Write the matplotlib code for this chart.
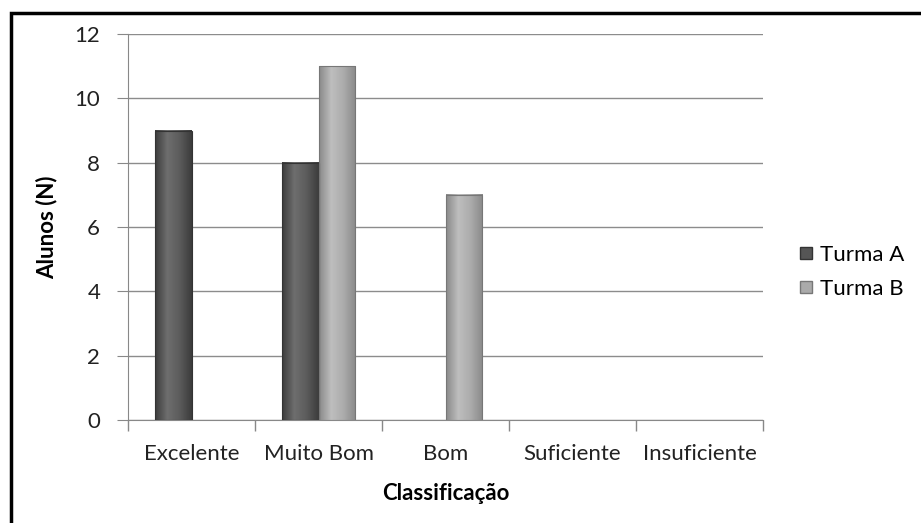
import numpy as np
import matplotlib
matplotlib.use("Agg")
import matplotlib.pyplot as plt
from matplotlib.colors import LinearSegmentedColormap
from matplotlib.patches import Rectangle
from matplotlib.lines import Line2D

# --- données ---
categorias = ["Excelente", "Muito Bom", "Bom", "Suficiente", "Insuficiente"]
turma_a = [9, 8, 0, 0, 0]
turma_b = [0, 11, 7, 0, 0]
series = ["Turma A", "Turma B"]

plt.rcParams["font.family"] = ["Lato", "DejaVu Sans"]
fs = 16

fig = plt.figure(figsize=(9.21, 5.23), dpi=100)
ax = fig.add_axes([128 / 921, 103 / 523, 635 / 921, 386 / 523])

x = np.arange(len(categorias))
w = 0.285

cmap_a = LinearSegmentedColormap.from_list("a", ["#3c3c3c", "#6e6e6e", "#5c5c5c", "#3c3c3c"])
cmap_b = LinearSegmentedColormap.from_list("b", ["#8a8a8a", "#bebebe", "#acacac", "#8a8a8a"])
grad = np.linspace(0, 1, 64).reshape(1, -1)

def barras(xs, hs, cmap, edge):
    bars = ax.bar(xs, hs, w, color="none", edgecolor="none", zorder=3)
    for b, h in zip(bars, hs):
        if h <= 0:
            continue
        x0, y0 = b.get_x(), b.get_y()
        ax.imshow(grad, cmap=cmap, aspect="auto", zorder=3,
                  extent=(x0, x0 + b.get_width(), y0, y0 + h))
        ax.add_patch(Rectangle((x0, y0), b.get_width(), h, fill=False,
                               edgecolor=edge, linewidth=0.8, zorder=4))

barras(x - w / 2, turma_a, cmap_a, "#333333")
barras(x + w / 2, turma_b, cmap_b, "#777777")

ax.set_xlim(-0.5, len(categorias) - 0.5)
ax.set_ylim(0, 12)
ax.set_yticks(range(0, 13, 2))
ax.set_xticks(x)
ax.set_xticklabels(categorias)
ax.set_xticks(np.arange(-0.5, len(categorias)), minor=True)
ax.tick_params(axis="x", which="major", length=0, pad=17, labelsize=fs, colors="#222222")
ax.tick_params(axis="x", which="minor", length=8, color="#888888", width=1)
ax.tick_params(axis="y", length=8, labelsize=fs, pad=12, colors="#222222")
ax.tick_params(axis="y", color="#888888")

ax.grid(axis="y", color="#8c8c8c", linewidth=1, zorder=0)
for s in ["top", "right"]:
    ax.spines[s].set_visible(False)
for s in ["left", "bottom"]:
    ax.spines[s].set_color("#888888")

ax.set_ylabel("Alunos (N)", fontsize=fs, fontweight="bold", labelpad=12)
ax.set_xlabel("Classificação", fontsize=fs, fontweight="bold", labelpad=14)

handles = [Line2D([], [], marker="s", linestyle="none", markersize=9,
                  markerfacecolor=c, markeredgecolor=e)
           for c, e in [("#555555", "#333333"), ("#aaaaaa", "#777777")]]
fig.legend(handles, series, loc="center left", bbox_to_anchor=(784 / 921, 1 - 272 / 523),
           frameon=False, fontsize=fs, handletextpad=0.1, labelspacing=0.65,
           handlelength=1.0, borderpad=0)

# cadre noir
fig.patches.append(Rectangle((11 / 921, -0.1), 2, 1.1 - 13 / 523, transform=fig.transFigure,
                             fill=False, edgecolor="black", linewidth=2.5))

fig.savefig("out.png", dpi=100)
